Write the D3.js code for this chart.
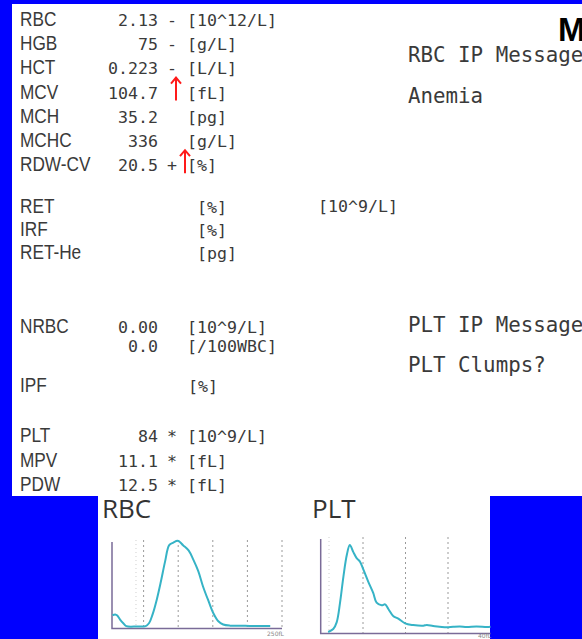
<!DOCTYPE html>
<html><head><meta charset="utf-8">
<script src="https://cdn.jsdelivr.net/npm/d3@7/dist/d3.min.js"></script>
<style>html,body{margin:0;padding:0;background:#0000ff;overflow:hidden}svg{display:block}</style>
</head><body><svg id="c" width="582" height="639"></svg>
<script>
// ---------- data ----------
const rbcLabels = ["RBC","HGB","HCT","MCV","MCH","MCHC","RDW-CV"];
const rbcValues = ["2.13","75","0.223","104.7","35.2","336","20.5"];
const rbcFlags  = ["-","-","-","","","","+"];
const rbcUnits  = ["[10^12/L]","[g/L]","[L/L]","[fL]","[pg]","[g/L]","[%]"];
const arrowRows = ["MCV","RDW-CV"];
const retLabels = ["RET","IRF","RET-He"];
const retUnits  = ["[%]","[%]","[pg]"];
const retAbsUnit = "[10^9/L]";
const nrbcLabels = ["NRBC",""];
const nrbcValues = ["0.00","0.0"];
const nrbcUnits  = ["[10^9/L]","[/100WBC]"];
const ipfLabels = ["IPF"];
const ipfUnits  = ["[%]"];
const pltLabels = ["PLT","MPV","PDW"];
const pltValues = ["84","11.1","12.5"];
const pltFlags  = ["*","*","*"];
const pltUnits  = ["[10^9/L]","[fL]","[fL]"];
const rbcMessages = ["RBC IP Message","Anemia"];
const pltMessages = ["PLT IP Message","PLT Clumps?"];
const cornerLetter = "M";
const histTitles = ["RBC","PLT"];

// RBC histogram (fL, relative count)
const rbcHistX = [5,9,12,16,21,25,40,53,58,63,69,75,81,87,93,99,102,107,115,122,129,136,144,151,158,165,175,189,203,218,233];
const rbcHistY = [13,14,12.6,8,3.4,0.4,0,0.5,4,14,31,52,75,94,97,99,98,94,88,77,64,46,29,15,6,2.3,1,1,0.7,0.5,0.5];
const rbcGrid = [50,100,150,200,250];
const rbcDisc = [39];
const rbcAxisMax = "250fL";
// PLT histogram
const pltHistX = [1.8,3,3.8,4.6,5.4,6.2,6.9,7.7,8.5,9.3,10.1,11.2,12.4,13.2,14.4,15.2,16,17.1,18.3,19.9,21.8,24.2,25,26.5,28,29.7,31.2,32.8,34.4,36.7,39.1,40];
const pltHistY = [0,3.3,10.8,33,62.6,86.7,97.8,90,83,79,70,57,44,33,30,31,25.6,18,15,9.7,7.8,7,8,6.7,6,5.2,5.9,6.3,5.5,6.3,5.5,5.8];
const pltGrid = [10,20,30];
const pltDisc = [2];
const pltAxisMax = "40fL";

// ---------- drawing ----------
const svg = d3.select("#c");
svg.append("rect").attr("width",582).attr("height",639).attr("fill","#0000ff");
svg.append("rect").attr("x",12).attr("y",4).attr("width",570).attr("height",492).attr("fill","#fff");
svg.append("rect").attr("x",98).attr("y",495).attr("width",392).attr("height",144).attr("fill","#fff");

const labelFont = "'Liberation Sans',Arial,sans-serif";
const monoFont = "'DejaVu Sans Mono','Liberation Mono',monospace";
const ink = "#3a3a3a";

function block(labels, values, flags, units, ys, unitX){
  labels.forEach((l,i)=>{
    const y = ys[i];
    if(l) svg.append("text").attr("transform",`translate(20,${y}) scale(0.82,1)`).text(l)
      .attr("font-family",labelFont).attr("font-size",21).attr("fill",ink);
    if(values && values[i]) svg.append("text").attr("x",158).attr("y",y).attr("text-anchor","end").text(values[i])
      .attr("font-family",monoFont).attr("font-size",16.6).attr("fill",ink);
    if(flags && flags[i]) svg.append("text").attr("x",172).attr("y",y).attr("text-anchor","middle").text(flags[i])
      .attr("font-family",monoFont).attr("font-size",16.6).attr("fill",ink);
    if(units && units[i]) svg.append("text").attr("x",unitX).attr("y",y).text(units[i])
      .attr("font-family",monoFont).attr("font-size",16.6).attr("fill",ink);
  });
}
const rbcY = d3.range(rbcLabels.length).map(i=>26+i*24.2);
block(rbcLabels, rbcValues, rbcFlags, rbcUnits, rbcY, 187);
const retY = [213,236,259];
block(retLabels, null, null, retUnits, retY, 197);
svg.append("text").attr("x",318).attr("y",212).text(retAbsUnit)
  .attr("font-family",monoFont).attr("font-size",16.6).attr("fill",ink);
block(nrbcLabels, nrbcValues, null, nrbcUnits, [333,352], 187);
block(ipfLabels, null, null, ipfUnits, [392], 188);
block(pltLabels, pltValues, pltFlags, pltUnits, [442,467,491], 187);

// red arrows
const arrowX = {"MCV":176,"RDW-CV":185};
arrowRows.forEach(r=>{
  const i = rbcLabels.indexOf(r);
  const x = arrowX[r], yb = rbcY[i]+2, yt = rbcY[i]-21;
  svg.append("path").attr("d",`M${x},${yb}L${x},${yt}M${x-5},${yt+6}L${x},${yt}L${x+5},${yt+6}`)
    .attr("stroke","#ff1a1a").attr("stroke-width",2).attr("fill","none");
});

// messages
[[rbcMessages,[62,103]],[pltMessages,[332,372]]].forEach(([m,ys])=>{
  m.forEach((t,i)=>svg.append("text").attr("x",408).attr("y",ys[i]).text(t)
    .attr("font-family",monoFont).attr("font-size",20.8).attr("fill",ink));
});
svg.append("text").attr("x",558).attr("y",41).text(cornerLetter)
  .attr("font-family","'Liberation Sans',Arial,sans-serif").attr("font-weight","bold").attr("font-size",33).attr("fill","#000");

// histogram titles
[[histTitles[0],102],[histTitles[1],312]].forEach(([t,x])=>svg.append("text").attr("x",x).attr("y",518).text(t)
  .attr("font-family","'Open Sans',sans-serif").attr("font-size",26).attr("fill","#333"));

function hist(xs, ys, dom, xr, yr, grid, disc, axisX, axisY, gridTop, maxLabel, labX, labY){
  const x = d3.scaleLinear().domain(dom).range(xr);
  const y = d3.scaleLinear().domain([0,100]).range(yr);
  const g = svg.append("g");
  grid.forEach(v=>g.append("line").attr("x1",x(v)).attr("x2",x(v)).attr("y1",gridTop).attr("y2",axisY)
    .attr("stroke","#9a9a9a").attr("stroke-width",1).attr("stroke-dasharray","2,3"));
  disc.forEach(v=>g.append("line").attr("x1",x(v)).attr("x2",x(v)).attr("y1",gridTop).attr("y2",axisY)
    .attr("stroke","#cfcfcf").attr("stroke-width",1).attr("stroke-dasharray","1,3"));
  g.append("path").attr("d",`M${axisX},${gridTop+2}L${axisX},${axisY}L${x(dom[1])},${axisY}`)
    .attr("stroke","#7a6b98").attr("stroke-width",1.5).attr("fill","none");
  const line = d3.line().x(d=>x(d[0])).y(d=>y(d[1])).curve(d3.curveCatmullRom);
  g.append("path").attr("d",line(xs.map((v,i)=>[v,ys[i]])))
    .attr("stroke","#36b3c6").attr("stroke-width",2).attr("fill","none");
  g.append("text").attr("x",labX).attr("y",labY).text(maxLabel)
    .attr("font-family","'DejaVu Sans',sans-serif").attr("font-size",6).attr("fill","#888");
}
hist(rbcHistX, rbcHistY, [0,250], [109,282], [626.5,540], rbcGrid, rbcDisc, 112, 628.5, 540, rbcAxisMax, 267, 636);
hist(pltHistX, pltHistY, [0,40], [320.5,490.5], [632,543], pltGrid, pltDisc, 320.7, 633.5, 537, pltAxisMax, 478, 638);
</script></body></html>
